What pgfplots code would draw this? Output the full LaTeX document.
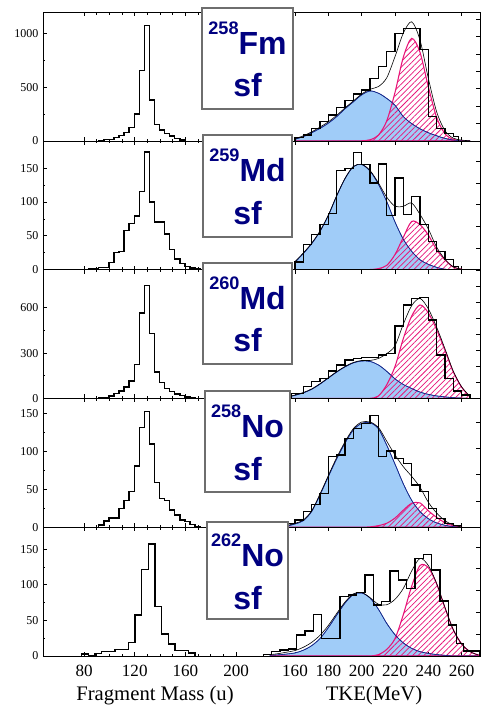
\documentclass[border=0pt]{standalone}
\usepackage{fontspec}
\setmainfont{Liberation Serif}
\newfontfamily\labelfont{Liberation Sans}
\usepackage{pgfplots}
\pgfplotsset{compat=1.18}
\usepackage{pgfplotstable}
\usetikzlibrary{patterns.meta}

\definecolor{navytxt}{RGB}{0,0,128}
\definecolor{bluefill}{RGB}{160,204,248}
\definecolor{blueline}{RGB}{20,40,140}
\definecolor{pinkc}{RGB}{232,20,120}
\definecolor{boxgray}{RGB}{110,110,110}

% fitted components: T, low-TKE (blue), high-TKE (pink), total
\pgfplotstableread{
T b p s
160 2 0 2.5
165 5 0 6
170 9.5 0 10.5
175 14.5 0 16
180 20.5 0 22
185 28 0 29.5
190 37 0 38
195 45 0 46
200 53 0.2 54
205 57.5 1.4 59.5
210 55 6.6 62.5
215 49 22.9 72.5
220 41 55.8 97
225 28 96.4 124
230 20 118 137
235 14 101.9 116
240 9.5 62.3 72
245 6 27 33.5
250 3 8.3 11.8
255 1 1.8 3.2
260 0.2 0.3 1
265 0 0 0.3
}\fitA
\pgfplotstableread{
T b p s
160 7 0 7.5
165 15 0 15.5
170 24 0 24.5
175 35.3 0 35.8
180 50 0 50.5
185 68 0 68.3
190 84 0 84.2
195 95 0 95.2
200 97 0 97.2
205 91 0.2 91.5
210 79 1 80.2
215 63 4 67
220 44 14 58.5
225 28 30 58.5
230 17 44.5 61.5
235 9.2 41.5 51
240 5 32 37.5
245 2.2 18.4 20.8
250 0.5 9 9.6
255 0 2.5 2.6
260 0 0.5 0.5
}\fitB
\pgfplotstableread{
T b p s
155 1.5 0 1.8
160 4 0 4.3
165 7 0 7.5
170 11.5 0 12
175 18 0 18.5
180 25.5 0 26
185 33 0 33.5
190 39.5 0 40
195 44.5 0 45
200 46.9 0 47.5
205 46.3 0.2 47.5
210 42 3 50
215 34 17 56
220 24.5 40 66
225 17.5 75 93
230 12.5 103 116
235 8 116.9 125
240 5.2 107 112
245 3.2 86 89
250 2 60 62
255 1 33 34
260 0.5 14 14.5
265 0 2.3 2.5
}\fitC
\pgfplotstableread{
T b p s
155 0.8 0 1.2
160 2.5 0 3
165 5 0 5.5
170 12 0 12.5
175 24.6 0 25.3
180 38.5 0 39.3
185 52 0 53
190 64 0 65
195 74 0 75
200 79 0 80
205 79.5 0.3 80
210 75 1.2 76
215 62.5 3 65.5
220 48 7 55
225 33 13 46
230 20.5 18.2 38.7
235 11.9 18.5 30.4
240 6.5 12.5 19
245 3.3 7.5 10.8
250 1.5 3.5 5
255 0.5 1.2 1.7
260 0 0.2 0.2
}\fitD
\pgfplotstableread{
T b p s
145 0.7 0 1.2
150 1.1 0 2.2
155 1.8 0 3.5
160 2.8 0 5
165 5.3 0 8
170 9.5 0 12.5
175 16 0 19
180 26 0 28
185 37.5 0 39
190 48.5 0 49.5
195 56.5 0 57
200 57.8 0 58.3
205 53.2 0 53.5
210 43 1.2 47.5
215 30 6 47
220 19.5 16 52
225 12 38 62
230 7 64 78
235 4 83 89.5
240 2.4 81 83
245 1.3 66 66.5
250 0.6 44 44.5
255 0 24 24
260 0 11 11
265 0 4 4
270 0 1 1
}\fitE

\pgfplotsset{
  panel/.style={scale only axis, width=327.75pt, height=96.5625pt, anchor=south west,
    axis line style={line width=0.7pt}, tick style={line width=0.6pt, black},
    major tick length=3pt, minor tick length=1.8pt, tick align=inside,
    xticklabels={}, yticklabel style={font=\fontsize{9}{10}\selectfont},
    xticklabel style={font=\fontsize{12.8}{14}\selectfont, yshift=-3pt}},
  massax/.style={panel, xmin=47.6, xmax=392.5, ymin=0,
    xtick={80,120,160,200}, minor x tick num=3, ytick pos=left, minor y tick num=1},
  tkeax/.style={panel, xmin=8.8, xmax=271, ymin=0,
    xtick={160,180,200,220,240,260}, ytick distance=20, ytick pos=right, yticklabels={}},
  hist/.style={const plot, black, line width=1.05pt},
  tkehist/.style={const plot, black, line width=0.9pt},
}

\newcommand{\fits}[1]{%
  \addplot[draw=blueline, line width=0.45pt, fill=bluefill, smooth] table[x=T,y=b]{#1} \closedcycle;
  \addplot[draw=pinkc, line width=0.8pt, pattern={Lines[angle=45,distance=3pt,line width=0.55pt]}, pattern color=pinkc, smooth] table[x=T,y=p]{#1} \closedcycle;
  \addplot[blueline, line width=0.45pt, smooth] table[x=T,y=b]{#1};
  \addplot[black, line width=0.45pt, smooth] table[x=T,y=s]{#1};
}

\begin{document}
\begin{tikzpicture}[x=0.75pt, y=0.75pt]
\useasboundingbox (0,0) rectangle (482,706);

% ---- 258Fm
\begin{axis}[tkeax, at={(32.25pt,423.75pt)}, ymax=148]
\fits{\fitA}
\addplot[tkehist] coordinates {(160,0)(160,3.8)(165,6.9)(170,14.6)(175,22.2)(180,29.9)(185,38.7)(190,46.3)(195,54)(200,58.6)(205,72)(210,85.4)(215,102.6)(220,123.7)(225,129.5)(230,129.5)(235,105.4)(240,27.9)(245,14.6)(250,8.8)(255,4.9)(258,0)};
\end{axis}
\begin{axis}[massax, at={(32.25pt,423.75pt)}, ymax=1195, ytick={0,500,1000}, yticklabels={0,500,1000}]
\addplot[hist] coordinates {(91.6,0)(91.6,5)(95.6,16)(99.6,16)(103.6,34)(107.6,49)(111.6,77)(115.6,124)(119.6,251)(123.6,653)(127.6,1074)(131.6,381)(135.6,155)(139.6,102)(143.6,71)(147.6,46)(151.6,25)(155.6,10)(159.6,0)};
\end{axis}

% ---- 259Md
\begin{axis}[tkeax, at={(32.25pt,327.1875pt)}, ymax=118.7]
\fits{\fitB}
\addplot[tkehist] coordinates {(160,0)(160,7.1)(165,23)(170,32.3)(175,41.5)(180,52.2)(185,91.2)(190,93.6)(195,108.4)(200,96.8)(205,79.9)(210,97.4)(215,49.8)(220,84.5)(225,50.7)(230,67.6)(235,42)(240,26)(245,16.6)(250,9.2)(255,3)(258,0)};
\end{axis}
\begin{axis}[massax, at={(32.25pt,327.1875pt)}, ymax=190, ytick={0,50,100,150}, yticklabels={0,50,100,150}]
\addplot[hist] coordinates {(83.6,0)(83.6,1.5)(87.6,1.5)(91.6,3.4)(95.6,3.4)(99.6,10.8)(103.6,25.6)(107.6,27)(111.6,58)(115.6,68)(119.6,79.6)(123.6,115.5)(127.6,173.6)(131.6,99.8)(135.6,70.3)(139.6,70.3)(143.6,52.6)(147.6,29.5)(151.6,15.7)(155.6,8.8)(159.6,4.4)(163.6,2.5)(167.6,1)(171.6,0)};
\end{axis}

% ---- 260Md
\begin{axis}[tkeax, at={(32.25pt,230.625pt)}, ymax=160.9]
\fits{\fitC}
\addplot[tkehist] coordinates {(158,0)(158,6.5)(165,14.8)(170,21)(175,25.2)(180,34.4)(185,41.9)(190,48.1)(195,50.2)(200,51.5)(205,51.5)(210,54.4)(215,56.5)(220,90.6)(225,116.9)(230,125.2)(235,126)(240,98.1)(245,54.4)(250,25.2)(255,9.4)(260,4.4)(265,0)};
\end{axis}
\begin{axis}[massax, at={(32.25pt,230.625pt)}, ymax=852.6, ytick={0,300,600}, yticklabels={0,300,600}]
\addplot[hist] coordinates {(91.6,0)(91.6,3)(95.6,6)(99.6,17)(103.6,33)(107.6,50)(111.6,77)(115.6,117)(119.6,225)(123.6,567)(127.6,750)(131.6,430)(135.6,176)(139.6,106)(143.6,66)(147.6,48)(151.6,30)(155.6,20)(159.6,11)(163.6,4)(167.6,0)};
\end{axis}

% ---- 258No
\begin{axis}[tkeax, at={(32.25pt,134.0625pt)}, ymax=97.9]
\fits{\fitD}
\addplot[tkehist] coordinates {(155,0)(155,3)(160,5.5)(165,11.9)(170,17)(175,25.8)(180,53.7)(185,55)(190,67.6)(195,75.3)(200,79.1)(205,85)(210,53.7)(215,58)(220,52.5)(225,48.6)(230,32.1)(235,27)(240,14.4)(245,6.8)(250,3)(255,1.2)(260,0)};
\end{axis}
\begin{axis}[massax, at={(32.25pt,134.0625pt)}, ymax=170.3, ytick={0,50,100,150}, yticklabels={0,50,100,150}]
\addplot[hist] coordinates {(91.6,0)(91.6,3)(95.6,8.3)(99.6,12)(103.6,12)(107.6,25)(111.6,35.6)(115.6,47)(119.6,81)(123.6,132)(127.6,153)(131.6,110)(135.6,59.5)(139.6,38)(143.6,35)(147.6,23)(151.6,16)(155.6,9.7)(159.6,7.5)(163.6,4)(167.6,1)(171.6,0)};
\end{axis}

% ---- 262No
\begin{axis}[tkeax, at={(32.25pt,37.5pt)}, ymax=118.1, xticklabels={160,180,200,220,240,260}]
\fits{\fitE}
\addplot[tkehist] coordinates {(141,0)(141,1.5)(146,3.9)(151,5.5)(156,6.4)(161,19.3)(166,23)(171,38.2)(176,16.2)(187,54.4)(192,55.9)(197,58.1)(202,74.3)(207,46.8)(212,49.9)(217,78)(222,69.7)(227,62)(232,89.6)(237,93.3)(242,78.9)(247,50.4)(252,28.4)(257,11.6)(261,4.6)(271,0)};
\end{axis}
\begin{axis}[massax, at={(32.25pt,37.5pt)}, ymax=181, ytick={0,50,100,150}, yticklabels={0,50,100,150}, xticklabels={80,120,160,200}]
\addplot[hist] coordinates {(78.2,0)(78.2,2.8)(83.4,1)(88.7,3.8)(94.0,6)(99.2,6)(104.5,9.4)(109.8,9.4)(115.0,18.8)(120.3,57.7)(125.5,122)(130.7,157.5)(136.0,70)(141.3,31)(146.5,16.9)(151.8,7.5)(157.1,7.5)(162.3,4.2)(167.6,0)};
\end{axis}

% ---- labels in boxes
\newcommand{\nuc}[2]{{\fontsize{13.6}{14}\selectfont\raisebox{15pt}{#1}}#2}
\tikzset{boxtxt/.style={anchor=base, inner sep=0pt, text=navytxt, font=\labelfont\bfseries\fontsize{24}{26}\selectfont}}
\filldraw[draw=boxgray, fill=white, line width=1pt] (202,698) rectangle (293,597);
\node[boxtxt] at (247.5,651) {\nuc{258}{Fm}};
\node[boxtxt] at (247.5,609) {sf};
\filldraw[draw=boxgray, fill=white, line width=1pt] (203,571) rectangle (292,469);
\node[boxtxt] at (247.5,524) {\nuc{259}{Md}};
\node[boxtxt] at (247.5,481) {sf};
\filldraw[draw=boxgray, fill=white, line width=1pt] (203,443) rectangle (292,342);
\node[boxtxt] at (247.5,396) {\nuc{260}{Md}};
\node[boxtxt] at (247.5,354) {sf};
\filldraw[draw=boxgray, fill=white, line width=1pt] (205,315) rectangle (290,214);
\node[boxtxt] at (247.5,268) {\nuc{258}{No}};
\node[boxtxt] at (247.5,225) {sf};
\filldraw[draw=boxgray, fill=white, line width=1pt] (207,184) rectangle (288,87);
\node[boxtxt] at (247.5,139) {\nuc{262}{No}};
\node[boxtxt] at (247.5,96) {sf};

% ---- axis titles
\node[anchor=base, inner sep=0pt, font=\fontsize{15.5}{17}\selectfont] at (155,6) {Fragment Mass (u)};
\node[anchor=base, inner sep=0pt, font=\fontsize{15.5}{17}\selectfont] at (374,6) {TKE(MeV)};
\end{tikzpicture}
\end{document}
